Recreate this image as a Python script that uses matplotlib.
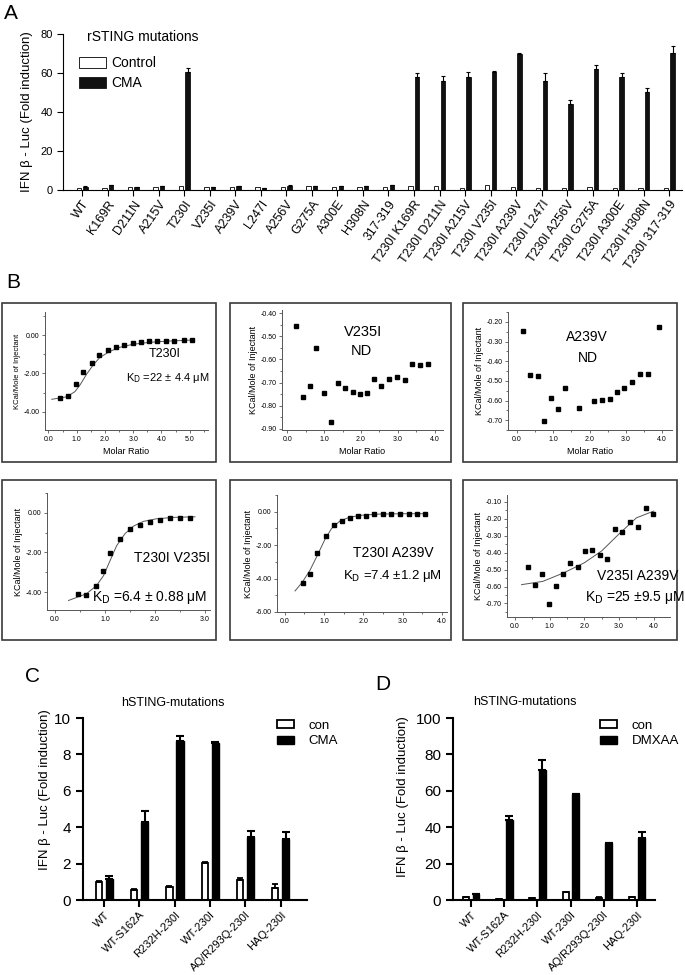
import matplotlib
matplotlib.use("Agg")
import matplotlib.pyplot as plt
from matplotlib.patches import Rectangle
from matplotlib.ticker import MultipleLocator, FormatStrFormatter
import numpy as np

plt.rcParams["font.family"] = ["Liberation Sans", "DejaVu Sans"]
plt.rcParams["axes.unicode_minus"] = False

W, H = 685, 975

# ---- panel A: rSTING mutations ----
a_labels = ["WT", "K169R", "D211N", "A215V", "T230I", "V235I", "A239V", "L247I",
            "A256V", "G275A", "A300E", "H308N", "317-319",
            "T230I K169R", "T230I D211N", "T230I A215V", "T230I V235I",
            "T230I A239V", "T230I L247I", "T230I A256V", "T230I G275A",
            "T230I A300E", "T230I H308N", "T230I 317-319"]
a_control = [1.2, 1.2, 1.7, 1.5, 2.0, 1.4, 1.4, 1.3, 1.5, 2.3, 1.5, 1.5, 1.7,
             2.0, 2.3, 0.9, 2.4, 1.5, 0.9, 0.9, 1.4, 0.9, 0.9, 1.2]
a_cma = [1.7, 2.6, 1.5, 1.9, 60.3, 1.4, 1.9, 1.1, 2.3, 2.1, 1.9, 1.8, 2.5,
         57.8, 55.8, 57.8, 60.3, 69.6, 55.9, 44.1, 61.9, 57.8, 50.3, 70.4]
a_cma_err = [0.2, 0.2, 0.2, 0.2, 2.1, 0.1, 0.2, 0.1, 0.3, 0.2, 0.2, 0.2, 0.3,
             2.3, 2.5, 2.5, 0.6, 0.5, 3.9, 2.1, 2.2, 2.0, 2.2, 3.4]

# ---- panel B: ITC titrations ----
t230i_x = [0.41, 0.70, 0.98, 1.24, 1.53, 1.80, 2.10, 2.39, 2.68, 2.98, 3.27,
           3.56, 3.86, 4.15, 4.45, 4.80, 5.10]
t230i_y = [-3.30, -3.20, -2.55, -1.95, -1.45, -1.05, -0.78, -0.62, -0.52,
           -0.43, -0.38, -0.33, -0.30, -0.30, -0.29, -0.28, -0.25]
t230i_fit_x = [0.12, 0.65, 0.94, 1.12, 1.35, 1.59, 1.82, 2.18, 2.53, 3.00, 3.59, 4.18, 5.12]
t230i_fit_y = [-3.35, -3.22, -2.95, -2.60, -2.05, -1.55, -1.17, -0.85, -0.64, -0.48, -0.38, -0.32, -0.26]

v235i_x = [0.24, 0.43, 0.61, 0.79, 0.99, 1.18, 1.37, 1.57, 1.77, 1.96, 2.16,
           2.36, 2.55, 2.77, 2.97, 3.18, 3.39, 3.59, 3.81]
v235i_y = [-0.458, -0.762, -0.716, -0.552, -0.745, -0.871, -0.701, -0.725,
           -0.739, -0.748, -0.745, -0.686, -0.716, -0.686, -0.678, -0.688,
           -0.622, -0.626, -0.622]

a239v_x = [0.17, 0.37, 0.57, 0.75, 0.94, 1.13, 1.33, 1.72, 2.13, 2.34, 2.55,
           2.75, 2.96, 3.18, 3.39, 3.61, 3.90]
a239v_y = [-0.246, -0.471, -0.475, -0.705, -0.586, -0.641, -0.534, -0.637,
           -0.602, -0.595, -0.593, -0.559, -0.537, -0.508, -0.464, -0.466, -0.225]

t230i_v235i_x = [0.45, 0.62, 0.82, 0.95, 1.10, 1.29, 1.49, 1.69, 1.89, 2.09, 2.29, 2.49, 2.69]
t230i_v235i_y = [-4.10, -4.15, -3.67, -2.95, -2.03, -1.30, -0.83, -0.60, -0.48,
                 -0.38, -0.27, -0.28, -0.27]
t230i_v235i_fit_x = [0.27, 0.63, 0.83, 0.97, 1.10, 1.23, 1.40, 1.57, 1.77, 2.03, 2.37, 2.80]
t230i_v235i_fit_y = [-4.42, -4.08, -3.67, -3.17, -2.42, -1.67, -1.05, -0.67, -0.43, -0.30, -0.23, -0.20]

t230i_a239v_x = [0.45, 0.64, 0.83, 1.04, 1.26, 1.46, 1.66, 1.86, 2.07, 2.28,
                 2.49, 2.71, 2.94, 3.15, 3.36, 3.57]
t230i_a239v_y = [-4.24, -3.70, -2.46, -1.44, -0.80, -0.54, -0.36, -0.26, -0.24,
                 -0.16, -0.14, -0.14, -0.14, -0.14, -0.14, -0.14]
t230i_a239v_fit_x = [0.26, 0.45, 0.64, 0.83, 1.02, 1.19, 1.40, 1.66, 2.00, 2.43, 3.02, 3.62]
t230i_a239v_fit_y = [-4.74, -4.20, -3.50, -2.60, -1.66, -1.00, -0.56, -0.32, -0.20, -0.14, -0.12, -0.12]

v235i_a239v_x = [0.38, 0.59, 0.79, 0.99, 1.18, 1.39, 1.60, 1.81, 2.02, 2.23,
                 2.44, 2.66, 2.88, 3.10, 3.32, 3.54, 3.77, 3.99]
v235i_a239v_y = [-0.487, -0.589, -0.526, -0.702, -0.597, -0.528, -0.459, -0.487,
                 -0.392, -0.386, -0.414, -0.437, -0.262, -0.276, -0.218, -0.250,
                 -0.139, -0.175]
v235i_a239v_fit_x = [0.19, 0.80, 1.40, 2.00, 2.50, 3.00, 3.50, 4.00]
v235i_a239v_fit_y = [-0.589, -0.570, -0.520, -0.460, -0.390, -0.290, -0.195, -0.155]

# ---- panels C and D: hSTING mutations ----
h_labels = ["WT", "WT-S162A", "R232H-230I", "WT-230I", "AQ/R293Q-230I", "HAQ-230I"]
c_con = [0.97, 0.55, 0.70, 2.05, 1.10, 0.68]
c_con_err = [0.05, 0.04, 0.09, 0.02, 0.12, 0.18]
c_cma = [1.15, 4.30, 8.74, 8.65, 3.47, 3.35]
c_cma_err = [0.17, 0.60, 0.26, 0.02, 0.33, 0.38]
d_con = [1.6, 0.5, 0.9, 4.2, 1.3, 1.6]
d_con_err = [0.3, 0.1, 0.1, 0.3, 0.2, 0.3]
d_dmxaa = [3.1, 43.9, 71.3, 58.0, 31.1, 34.0]
d_dmxaa_err = [0.3, 2.4, 5.8, 0.5, 0.3, 3.1]

fig = plt.figure(figsize=(W / 100, H / 100), dpi=100)


def px_axes(left, top, right, bottom):
    return fig.add_axes([left / W, 1 - bottom / H, (right - left) / W, (bottom - top) / H])


def fx(x):
    return x / W


def fy(y):
    return 1 - y / H


# ---------------- A ----------------
fig.text(fx(4), fy(4), "A", fontsize=15, va="top", ha="left")
ax = px_axes(63, 34, 682, 190)
x = np.arange(len(a_labels))
ax.bar(x - 0.13, a_control, 0.17, color="white", edgecolor="black", linewidth=0.6, label="Control")
ax.bar(x + 0.13, a_cma, 0.17, color="#111111", edgecolor="#111111", linewidth=0.6, label="CMA")
ax.errorbar(x + 0.13, a_cma, yerr=[np.zeros(len(a_cma)), a_cma_err], fmt="none",
            ecolor="black", elinewidth=0.8, capsize=1.2, capthick=0.8)
ax.set_xlim(-0.75, 23.5)
ax.set_ylim(0, 80)
ax.set_yticks([0, 20, 40, 60, 80])
ax.set_xticks(x)
ax.set_xticklabels(a_labels, rotation=55, ha="right", rotation_mode="anchor", fontsize=9)
ax.tick_params(axis="y", labelsize=8, length=4, width=0.8)
ax.tick_params(axis="x", length=4, width=0.8, pad=2)
for s in ("top", "right"):
    ax.spines[s].set_visible(False)
for s in ("left", "bottom"):
    ax.spines[s].set_linewidth(0.8)
fig.text(fx(27), fy(112), "IFN β - Luc (Fold induction)", rotation=90, ha="center", va="center", fontsize=9.5)
fig.text(fx(87), fy(37), "rSTING mutations", fontsize=10, ha="left", va="center")
ax.legend(loc="upper left", bbox_to_anchor=(fx(79), fy(56)), bbox_transform=fig.transFigure,
          frameon=False, fontsize=10, handlelength=1.95, handleheight=0.86,
          handletextpad=0.35, labelspacing=0.45, borderpad=0, borderaxespad=0)

# ---------------- B ----------------
fig.text(fx(6), fy(282), "B", fontsize=15, va="center", ha="left")
for (l, t, r, b) in [(2, 303, 216, 462), (230, 303, 451, 462), (463, 303, 677, 462),
                     (2, 480, 216, 640), (230, 480, 451, 640), (463, 480, 677, 640)]:
    fig.patches.append(Rectangle((fx(l), fy(b)), (r - l) / W, (b - t) / H, transform=fig.transFigure,
                                 fill=False, edgecolor="#3a3a3a", linewidth=1.2))


def itc_axes(rect, xlim, ylim, ymajor, label_size=6.5, xlabel=True):
    a = px_axes(*rect)
    a.set_xlim(xlim)
    a.set_ylim(ylim)
    for s in ("top", "right"):
        a.spines[s].set_visible(False)
    for s in ("left", "bottom"):
        a.spines[s].set_color("#555555")
        a.spines[s].set_linewidth(0.7)
    a.xaxis.set_major_locator(MultipleLocator(1.0))
    a.xaxis.set_minor_locator(MultipleLocator(0.5))
    a.yaxis.set_major_locator(MultipleLocator(ymajor))
    a.yaxis.set_minor_locator(MultipleLocator(ymajor / 2))
    a.xaxis.set_major_formatter(FormatStrFormatter("%.1f"))
    a.yaxis.set_major_formatter(FormatStrFormatter("%.2f"))
    a.tick_params(which="both", direction="out", labelsize=5, color="#555555", width=0.6, pad=1.5)
    a.tick_params(which="major", length=2.5)
    a.tick_params(which="minor", length=1.5)
    a.set_ylabel("KCal/Mole of Injectant", fontsize=label_size, labelpad=2)
    if xlabel:
        a.set_xlabel("Molar Ratio", fontsize=6.5, labelpad=3)
    return a


mk = dict(marker="s", markersize=3, color="black", linestyle="none")
fit = dict(color="#555555", linewidth=0.7)

a1 = itc_axes((45, 312, 208, 430), (-0.12, 5.65), (-4.95, 1.2), 2.0, label_size=5.5)
a1.plot(t230i_fit_x, t230i_fit_y, **fit)
a1.plot(t230i_x, t230i_y, **mk)
fig.text(fx(165), fy(354), "T230I", fontsize=9, ha="center", va="center")
fig.text(fx(209), fy(378), "K$_{\\mathrm{D}}$ =22 ± 4.4 μM", fontsize=8, ha="right", va="center")

a2 = itc_axes((282, 310, 443, 430), (-0.14, 4.22), (-0.905, -0.387), 0.1)
a2.plot(v235i_x, v235i_y, **mk)
fig.text(fx(363), fy(332), "V235I", fontsize=10.5, ha="center", va="center")
fig.text(fx(361), fy(351), "ND", fontsize=10.5, ha="center", va="center")

a3 = itc_axes((508, 312, 672, 430), (-0.25, 4.27), (-0.75, -0.15), 0.1)
a3.plot(a239v_x, a239v_y, **mk)
fig.text(fx(587), fy(337), "A239V", fontsize=10, ha="center", va="center")
fig.text(fx(588), fy(358), "ND", fontsize=10, ha="center", va="center")

a4 = itc_axes((47, 493, 210, 610), (-0.16, 3.1), (-4.9, 1.0), 2.0, xlabel=False)
a4.plot(t230i_v235i_fit_x, t230i_v235i_fit_y, **fit)
a4.plot(t230i_v235i_x, t230i_v235i_y, **mk)
fig.text(fx(172), fy(558), "T230I V235I", fontsize=10, ha="center", va="center")
fig.text(fx(150), fy(598), "K$_{\\mathrm{D}}$ =6.4 ± 0.88 μM", fontsize=10, ha="center", va="center")

a5 = itc_axes((277, 495, 447, 612), (-0.2, 4.13), (-6.0, 1.0), 2.0, xlabel=False)
a5.plot(t230i_a239v_fit_x, t230i_a239v_fit_y, **fit)
a5.plot(t230i_a239v_x, t230i_a239v_y, **mk)
fig.text(fx(393), fy(553), "T230I A239V", fontsize=10, ha="center", va="center")
fig.text(fx(392), fy(576), "K$_{\\mathrm{D}}$ =7.4 ±1.2 μM", fontsize=9.5, ha="center", va="center")

a6 = itc_axes((507, 495, 670, 617), (-0.23, 4.47), (-0.78, -0.06), 0.1, xlabel=False)
a6.plot(v235i_a239v_fit_x, v235i_a239v_fit_y, **fit)
a6.plot(v235i_a239v_x, v235i_a239v_y, **mk)
fig.text(fx(638), fy(576), "V235I A239V", fontsize=10, ha="center", va="center")
fig.text(fx(635), fy(597), "K$_{\\mathrm{D}}$ =25 ±9.5 μM", fontsize=10, ha="center", va="center")


# ---------------- C and D ----------------
def bar_panel(rect, xlim, con, con_err, drug, drug_err, ymax, ystep, drug_name, legend_xy):
    a = px_axes(*rect)
    xs = np.arange(len(h_labels))
    zero = np.zeros(len(xs))
    a.bar(xs - 0.15, con, 0.18, color="white", edgecolor="black", linewidth=1.3, label="con")
    a.bar(xs + 0.15, drug, 0.2, color="black", edgecolor="black", linewidth=1.0, label=drug_name)
    a.errorbar(xs - 0.15, con, yerr=[zero, con_err], fmt="none", ecolor="black",
               elinewidth=1.3, capsize=2.5, capthick=1.3)
    a.errorbar(xs + 0.15, drug, yerr=[zero, drug_err], fmt="none", ecolor="black",
               elinewidth=1.5, capsize=3, capthick=1.5)
    a.set_xlim(xlim)
    a.set_ylim(0, ymax)
    a.set_yticks(np.arange(0, ymax + ystep / 2, ystep))
    a.set_xticks(xs)
    a.set_xticklabels(h_labels, rotation=45, ha="right", rotation_mode="anchor", fontsize=8)
    for s in ("top", "right"):
        a.spines[s].set_visible(False)
    for s in ("left", "bottom"):
        a.spines[s].set_linewidth(1.5)
    a.tick_params(axis="y", labelsize=11, length=5, width=1.5)
    a.tick_params(axis="x", length=5, width=1.5, pad=2)
    a.legend(loc="upper left", bbox_to_anchor=(fx(legend_xy[0]), fy(legend_xy[1])),
             bbox_transform=fig.transFigure, frameon=False, fontsize=9.5,
             handlelength=1.3, handleheight=0.55, handletextpad=1.1,
             labelspacing=0.25, borderpad=0, borderaxespad=0)
    return a


fig.text(fx(25), fy(677), "C", fontsize=15, ha="left", va="center")
bar_panel((83, 718, 307, 900), (-0.6, 5.75), c_con, c_con_err, c_cma, c_cma_err,
          10, 2, "CMA", (277, 720))
fig.text(fx(173), fy(703), "hSTING-mutations", fontsize=9, ha="center", va="center")
fig.text(fx(45), fy(790), "IFN β - Luc (Fold induction)", rotation=90, ha="center", va="center", fontsize=9.5)

fig.text(fx(375), fy(685), "D", fontsize=15, ha="left", va="center")
bar_panel((453, 718, 655, 900), (-0.55, 5.55), d_con, d_con_err, d_dmxaa, d_dmxaa_err,
          100, 20, "DMXAA", (600, 720))
fig.text(fx(525), fy(702), "hSTING-mutations", fontsize=9, ha="center", va="center")
fig.text(fx(403), fy(797), "IFN β - Luc (Fold induction)", rotation=90, ha="center", va="center", fontsize=9.5)

fig.savefig("out.png", dpi=100)
